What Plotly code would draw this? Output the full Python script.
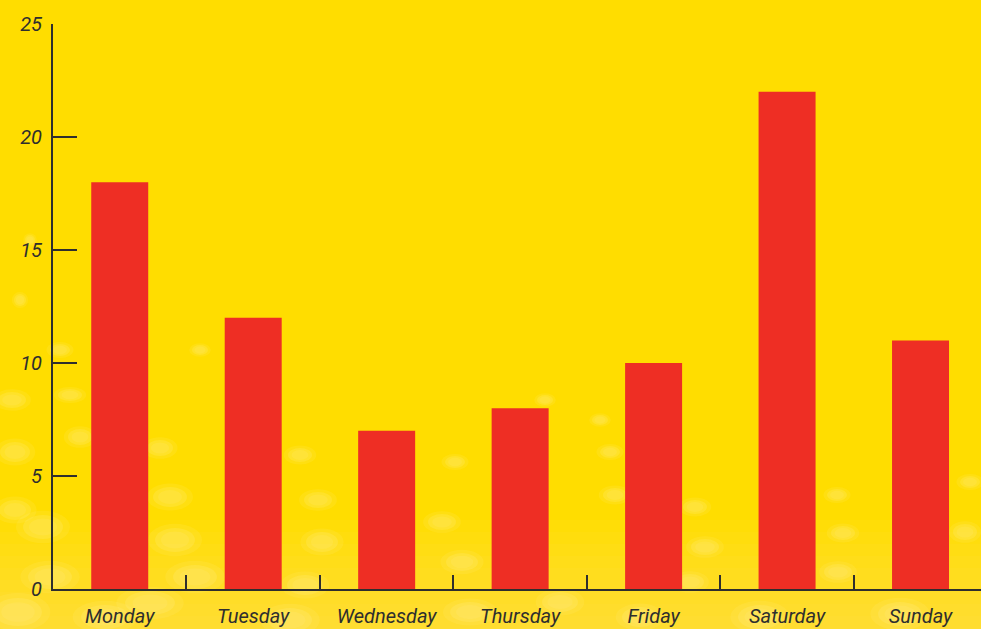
import plotly.graph_objects as go

days = ["Monday", "Tuesday", "Wednesday", "Thursday", "Friday", "Saturday", "Sunday"]
values = [18, 12, 7, 8, 10, 22, 11]
y_ticks = [0, 5, 10, 15, 20, 25]

FONT = "Roboto, Liberation Sans, sans-serif"
INK = "#2e2e2e"
YELLOW = "#FFDD00"
RED = "#EE2E24"

W, H = 981, 629
M_L, M_R, M_T, M_B = 53, 0, 24, 40
PW, PH = W - M_L - M_R, H - M_T - M_B

# Soft bokeh spots in the backdrop: centre x, centre y, radius x, radius y (pixels)
bokeh = [
    (12, 400, 14, 8), (15, 452, 15, 10), (70, 395, 12, 6), (80, 437, 12, 8),
    (15, 510, 16, 10), (43, 527, 20, 12), (160, 448, 13, 8), (170, 497, 17, 10),
    (175, 540, 20, 12), (195, 577, 22, 12), (150, 603, 25, 12), (50, 577, 22, 12),
    (18, 612, 24, 14), (105, 617, 24, 12), (300, 455, 12, 7), (318, 500, 14, 8),
    (322, 542, 16, 10), (305, 585, 18, 10), (290, 620, 22, 12), (455, 462, 10, 6),
    (442, 522, 14, 8), (462, 562, 16, 9), (470, 612, 20, 10), (600, 420, 8, 5),
    (610, 452, 10, 6), (615, 495, 12, 7), (695, 507, 12, 7), (705, 547, 14, 8),
    (690, 582, 14, 8), (837, 495, 10, 6), (843, 533, 12, 7), (838, 572, 14, 8),
    (970, 482, 10, 6), (965, 532, 12, 8), (560, 602, 18, 10), (760, 617, 22, 12),
    (900, 614, 22, 12), (640, 617, 18, 10), (60, 350, 10, 6), (20, 300, 6, 6),
    (200, 350, 8, 5), (30, 240, 5, 5), (545, 400, 8, 5),
]


def to_paper_x(px):
    return (px - M_L) / PW


def to_paper_y(py):
    return (H - M_B - py) / PH


shapes = []
# gentle light haze that thickens toward the bottom edge
for top in range(520, H, 12):
    shapes.append(dict(
        type="rect", xref="paper", yref="paper", layer="below",
        x0=to_paper_x(0), x1=to_paper_x(W), y0=to_paper_y(H), y1=to_paper_y(top),
        fillcolor="rgba(255,238,140,0.05)", line=dict(width=0),
    ))

# each spot: a wide faint halo plus a softer core
for cx, cy, rx, ry in bokeh:
    for scale, alpha in ((1.35, 0.10), (1.0, 0.16), (0.7, 0.12)):
        shapes.append(dict(
            type="circle", xref="paper", yref="paper", layer="below",
            x0=to_paper_x(cx - rx * scale), x1=to_paper_x(cx + rx * scale),
            y0=to_paper_y(cy + ry * scale), y1=to_paper_y(cy - ry * scale),
            fillcolor=f"rgba(255,242,165,{alpha})", line=dict(width=0),
        ))

fig = go.Figure(
    go.Bar(
        x=days,
        y=values,
        marker=dict(color=RED, line=dict(width=0)),
        width=0.427,
        hovertemplate="%{x}: %{y}<extra></extra>",
    )
)

fig.update_layout(
    width=W,
    height=H,
    margin=dict(l=M_L, r=M_R, t=M_T, b=M_B),
    paper_bgcolor=YELLOW,
    plot_bgcolor="rgba(0,0,0,0)",
    showlegend=False,
    font=dict(family=FONT, color=INK),
    shapes=shapes,
)

fig.update_xaxes(
    type="category",
    range=[-0.5, 6.453],
    showline=True,
    linecolor=INK,
    linewidth=2,
    ticks="inside",
    tickson="boundaries",
    ticklen=14,
    tickwidth=2,
    tickcolor=INK,
    showgrid=False,
    zeroline=False,
    tickfont=dict(family=FONT, size=20, color=INK, style="italic"),
    ticklabelstandoff=8,
)

fig.update_yaxes(
    range=[0, 25],
    tickvals=y_ticks,
    showline=True,
    linecolor=INK,
    linewidth=2,
    ticks="inside",
    ticklen=24,
    tickwidth=2,
    tickcolor=INK,
    showgrid=False,
    zeroline=False,
    tickfont=dict(family=FONT, size=20, color=INK, style="italic"),
    ticklabelstandoff=5,
)

fig.write_html("out.html")
